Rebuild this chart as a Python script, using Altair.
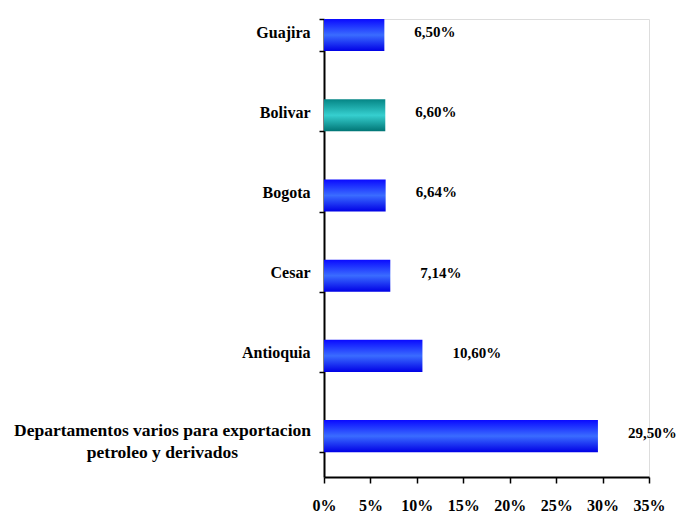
import altair as alt
import pandas as pd

categories = ["Guajira", "Bolivar", "Bogota", "Cesar", "Antioquia",
              "Departamentos varios para exportacion|petroleo y derivados"]
values = [6.50, 6.60, 6.64, 7.14, 10.60, 29.50]
value_labels = ["6,50%", "6,60%", "6,64%", "7,14%", "10,60%", "29,50%"]
x_ticks = [0, 5, 10, 15, 20, 25, 30, 35]

df = pd.DataFrame({"cat": categories, "val": values, "lab": value_labels})

blue = {"gradient": "linear", "x1": 0, "y1": 0, "x2": 0, "y2": 1,
        "stops": [{"offset": 0, "color": "#0a0aff"},
                  {"offset": 0.5, "color": "#3a6cff"},
                  {"offset": 1, "color": "#0000e6"}]}
teal = {"gradient": "linear", "x1": 0, "y1": 0, "x2": 0, "y2": 1,
        "stops": [{"offset": 0, "color": "#058585"},
                  {"offset": 0.5, "color": "#36cfcf"},
                  {"offset": 1, "color": "#007575"}]}

FONT = "Liberation Serif"
long_label = categories[-1]
is_long = f"datum.label == '{long_label}'"

y_enc = alt.Y("cat:N", sort=categories, title=None,
              scale=alt.Scale(paddingInner=0.6, paddingOuter=0.155, align=0),
              axis=alt.Axis(labelFont=FONT, labelFontWeight="bold",
                            labelFontSize=alt.condition(is_long, alt.value(17.5), alt.value(16)),
                            labelColor="black", domainColor="black", domainWidth=2,
                            tickColor="black", tickWidth=1.5, tickSize=5,
                            tickBand="extent", grid=False, labelLimit=0,
                            labelExpr="split(datum.label, '|')",
                            labelLineHeight=22,
                            labelAlign=alt.condition(is_long, alt.value("center"), alt.value("right")),
                            labelPadding=alt.condition(is_long, alt.value(157), alt.value(9)),
                            labelOffset=alt.condition(is_long, alt.value(-6), alt.value(-3))))

x_enc = alt.X("val:Q", title=None,
              scale=alt.Scale(domain=[0, 35], nice=False),
              axis=alt.Axis(values=x_ticks, labelExpr="datum.value + '%'",
                            labelFont=FONT, labelFontWeight="bold", labelFontSize=16,
                            labelColor="black", domainColor="black", domainWidth=2,
                            tickColor="black", tickWidth=1.5, tickSize=6,
                            labelPadding=14, labelOverlap=False, labelFlush=False,
                            grid=False))

bars = alt.Chart(df).mark_bar().encode(
    y=y_enc, x=x_enc,
    fill=alt.condition("datum.cat == 'Bolivar'", alt.value(teal), alt.value(blue)),
)

text = alt.Chart(df).mark_text(align="left", baseline="middle", dx=30, dy=-3,
                               font=FONT, fontWeight="bold", fontSize=15,
                               color="black").encode(
    y=alt.Y("cat:N", sort=categories), x="val:Q", text="lab:N")

chart = (bars + text).properties(
    width=325, height=458,
    autosize=alt.AutoSizeParams(type="none"),
    padding={"left": 316, "top": 11, "right": 29, "bottom": 40},
).configure_view(stroke=None).configure(background="white")

chart.save("out.html", embed_options={"renderer": "svg", "actions": False})
